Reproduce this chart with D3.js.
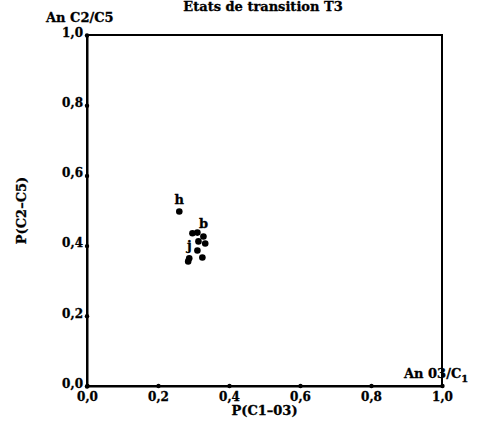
<!DOCTYPE html>
<html>
<head>
<meta charset="utf-8">
<script src="https://cdn.jsdelivr.net/npm/d3@7"></script>
<style>
    body { margin: 0; background: #fff; }
    svg text { font-family: "DejaVu Serif", serif; font-weight: bold; fill: #000; stroke: #000; stroke-width: 0.3px; }
</style>
</head>
<body>
<div id="chart"></div>
<script>
    // values
    var pointX = [0.260, 0.297, 0.311, 0.328, 0.314, 0.333, 0.311, 0.325, 0.288, 0.285];
    var pointY = [0.497, 0.435, 0.437, 0.426, 0.412, 0.406, 0.386, 0.366, 0.364, 0.355];
    var pointNames = ["h", "", "", "b", "", "", "", "", "j", ""];
    var tickValues = [0, 0.2, 0.4, 0.6, 0.8, 1.0];
    var tickLabels = ["0,0", "0,2", "0,4", "0,6", "0,8", "1,0"];

    var width = 487, height = 429;
    var margin = {left: 87, right: 45, top: 35, bottom: 43};

    var svg = d3.select("#chart")
        .append("svg")
        .attr("width", width)
        .attr("height", height);

    var x = d3.scaleLinear().domain([0, 1]).range([margin.left, width - margin.right]);
    var y = d3.scaleLinear().domain([0, 1]).range([height - margin.bottom, margin.top]);

    // frame
    svg.append("rect")
        .attr("x", x(0))
        .attr("y", y(1))
        .attr("width", x(1) - x(0))
        .attr("height", y(0) - y(1))
        .attr("fill", "none")
        .attr("stroke", "#000")
        .attr("stroke-width", 2);

    // x axis
    var xAxis = svg.append("g")
        .attr("transform", "translate(0," + y(0) + ")")
        .call(d3.axisBottom(x).tickValues(tickValues).tickSize(0)
            .tickFormat(function(d, i) { return tickLabels[i]; }));
    xAxis.select(".domain").attr("stroke-width", 2);
    xAxis.selectAll(".tick text").attr("dy", "1.0em").style("font-size", "12px");
    xAxis.selectAll(".tick").append("circle").attr("r", 2.2).attr("fill", "#000");

    // y axis
    var yAxis = svg.append("g")
        .attr("transform", "translate(" + x(0) + ",0)")
        .call(d3.axisLeft(y).tickValues(tickValues).tickSize(0).tickPadding(4)
            .tickFormat(function(d, i) { return tickLabels[i]; }));
    yAxis.select(".domain").attr("stroke-width", 2);
    yAxis.selectAll(".tick text").attr("dy", "0.1em").style("font-size", "12px");
    yAxis.selectAll(".tick").append("circle").attr("r", 2.2).attr("fill", "#000");

    // points
    var pts = d3.range(pointX.length).map(function(i) {
        return {x: pointX[i], y: pointY[i], name: pointNames[i]};
    });
    svg.append("g").selectAll("circle")
        .data(pts)
        .enter()
        .append("circle")
        .attr("cx", function(d) { return x(d.x); })
        .attr("cy", function(d) { return y(d.y); })
        .attr("r", 3.3)
        .attr("fill", "#000");

    svg.append("g").selectAll("text")
        .data(pts.filter(function(d) { return d.name; }))
        .enter()
        .append("text")
        .attr("x", function(d) { return x(d.x); })
        .attr("y", function(d) { return y(d.y) - 8; })
        .attr("text-anchor", "middle")
        .style("font-size", "13px")
        .text(function(d) { return d.name; });

    // titles
    svg.append("text")
        .attr("x", 263).attr("y", 11)
        .attr("text-anchor", "middle")
        .style("font-size", "13px")
        .text("Etats de transition T3");

    svg.append("text")
        .attr("x", 46).attr("y", 22)
        .style("font-size", "13px")
        .text("An C2/C5");

    var corner = svg.append("text")
        .attr("x", 404).attr("y", 378)
        .style("font-size", "13px");
    corner.append("tspan").text("An 03/C");
    corner.append("tspan").attr("dy", 4).style("font-size", "10px").text("1");

    svg.append("text")
        .attr("x", (x(0) + x(1)) / 2).attr("y", 415)
        .attr("text-anchor", "middle")
        .style("font-size", "13px")
        .text("P(C1\u201303)");

    svg.append("text")
        .attr("transform", "translate(26," + y(0.5) + ") rotate(-90)")
        .attr("text-anchor", "middle")
        .style("font-size", "13px")
        .text("P(C2\u2013C5)");
</script>
</body>
</html>
